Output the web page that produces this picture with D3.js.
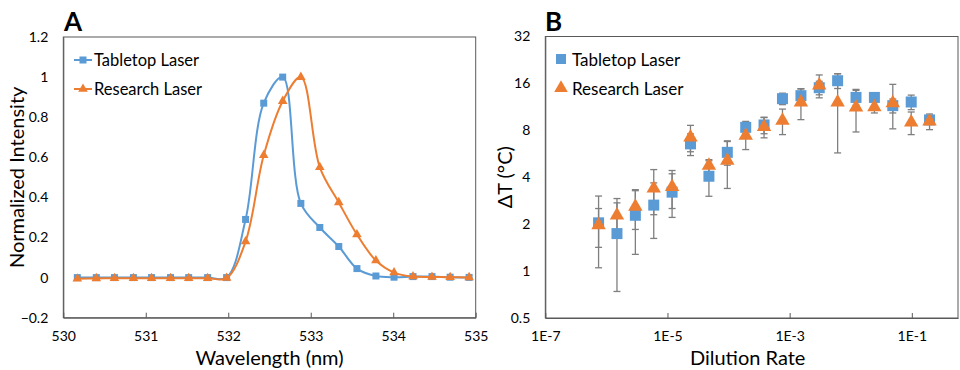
<!DOCTYPE html>
<html><head><meta charset="utf-8">
<script src="https://cdn.jsdelivr.net/npm/d3@7"></script>
<style>
html,body{margin:0;padding:0;background:#fff;}
svg text{font-family:Lato,"Open Sans",sans-serif;fill:#000;}
</style></head>
<body><svg id="c" width="960" height="370"></svg>
<script>
// ---------- Panel A data ----------
const wavelength = [530.17, 530.40, 530.62, 530.85, 531.07, 531.30, 531.52, 531.75, 531.98, 532.21, 532.43, 532.66, 532.88, 533.11, 533.34, 533.56, 533.79, 534.01, 534.24, 534.47, 534.69, 534.92];
const tabletopIntensity = [0, 0, 0, 0, 0, 0, 0, 0, 0, 0.29, 0.87, 1.0, 0.37, 0.25, 0.155, 0.045, 0.008, 0.002, 0.005, 0.005, 0.002, 0.001];
const researchIntensity = [-0.006, -0.004, -0.003, -0.003, -0.003, -0.003, -0.003, -0.003, -0.002, 0.18, 0.61, 0.88, 1.0, 0.55, 0.375, 0.215, 0.085, 0.025, 0.005, 0.003, 0.002, 0.001];
const xTicksA = [530, 531, 532, 533, 534, 535];
const yTicksA = [-0.2, 0, 0.2, 0.4, 0.6, 0.8, 1, 1.2];

// ---------- Panel B data ----------
const dilution = [7.45e-7, 1.49e-6, 2.98e-6, 5.96e-6, 1.19e-5, 2.38e-5, 4.77e-5, 9.54e-5, 1.91e-4, 3.81e-4, 7.63e-4, 1.53e-3, 3.05e-3, 6.10e-3, 1.22e-2, 2.44e-2, 4.88e-2, 9.77e-2, 0.195];
const tabletopDT = [2.04, 1.74, 2.28, 2.65, 3.21, 6.55, 4.06, 5.78, 8.36, 8.66, 12.77, 13.35, 15.02, 16.65, 13.01, 13.01, 11.52, 12.16, 9.33];
const tabletopErr = [0.99, 1.0, 1.0, 1.03, 1.0, 1.04, 1.04, 1.0, 0.77, 1.05, 1.08, 1.38, 1.5, 1.81, 1.42, 0.5, 1.18, 1.3, 0.6];
const researchDT = [1.97, 2.28, 2.59, 3.39, 3.47, 7.22, 4.75, 5.12, 7.40, 8.41, 9.23, 12.09, 15.53, 12.09, 11.23, 11.26, 11.98, 9.00, 9.13];
const researchErr = [0.55, 0.64, 0.74, 1.09, 0.95, 1.39, 0.44, 1.73, 1.38, 1.25, 1.72, 2.72, 2.6, 6.36, 3.42, 0.92, 3.8, 1.49, 1.05];
const xTicksB = [1e-7, 1e-5, 1e-3, 1e-1];
const xTickLabelsB = ["1E-7", "1E-5", "1E-3", "1E-1"];
const yTicksB = [0.5, 1, 2, 4, 8, 16, 32];

const seriesNames = ["Tabletop Laser", "Research Laser"];
const BLUE = "#5B9BD5", ORANGE = "#ED7D31";
const AXIS = "#595959", ERR = "#7F7F7F";

const svg = d3.select("#c");

// ---------- Panel A ----------
const A = {l: 63.3, r: 475.7, t: 37, b: 317.7};
const xA = d3.scaleLinear().domain([530, 535]).range([A.l, A.r]);
const yA = d3.scaleLinear().domain([-0.2, 1.2]).range([A.b, A.t]);
const gA = svg.append("g");

gA.append("rect").attr("x", A.l).attr("y", A.t).attr("width", A.r - A.l).attr("height", A.b - A.t)
  .attr("fill", "none").attr("stroke", AXIS).attr("stroke-width", 1);

const axA = gA.append("g").attr("transform", `translate(0,${A.b})`)
  .call(d3.axisBottom(xA).tickValues(xTicksA).tickFormat(d3.format("d")).tickSizeInner(-5).tickSizeOuter(0).tickPadding(13));
axA.select(".domain").attr("stroke", AXIS);
axA.selectAll(".tick line").attr("stroke", AXIS);
axA.selectAll("text").attr("font-size", 14);

const ayA = gA.append("g").attr("transform", `translate(${A.l},0)`)
  .call(d3.axisLeft(yA).tickValues(yTicksA).tickFormat(d => d3.format("~g")(+d.toFixed(2))).tickSize(0).tickPadding(15));
ayA.select(".domain").attr("stroke", AXIS);
ayA.selectAll("text").attr("font-size", 14);

const lineA = d3.line().curve(d3.curveCatmullRom.alpha(0.5));
const ptsT = wavelength.map((w, i) => [xA(w), yA(tabletopIntensity[i])]);
const ptsR = wavelength.map((w, i) => [xA(w), yA(researchIntensity[i])]);

gA.append("path").attr("d", lineA(ptsT)).attr("fill", "none").attr("stroke", BLUE).attr("stroke-width", 2);
gA.selectAll(".sqA").data(ptsT).join("rect").attr("x", d => d[0] - 3.5).attr("y", d => d[1] - 3.5)
  .attr("width", 7).attr("height", 7).attr("fill", BLUE);
gA.append("path").attr("d", lineA(ptsR)).attr("fill", "none").attr("stroke", ORANGE).attr("stroke-width", 2);
const tri = d3.symbol().type(d3.symbolTriangle);
gA.selectAll(".trA").data(ptsR).join("path").attr("d", tri.size(40)()).attr("transform", d => `translate(${d[0]},${d[1]})`).attr("fill", ORANGE);

// legend A
[[60, BLUE, "sq"], [89, ORANGE, "tr"]].forEach((L, i) => {
  gA.append("line").attr("x1", 74).attr("x2", 92).attr("y1", L[0]).attr("y2", L[0]).attr("stroke", L[1]).attr("stroke-width", 2);
  if (L[2] === "sq") gA.append("rect").attr("x", 79.5).attr("y", L[0] - 3.5).attr("width", 7).attr("height", 7).attr("fill", L[1]);
  else gA.append("path").attr("d", tri.size(40)()).attr("transform", `translate(83,${L[0]})`).attr("fill", L[1]);
  gA.append("text").attr("x", 94).attr("y", L[0]).attr("dy", "0.35em").attr("font-size", 16.5).text(seriesNames[i]);
});

gA.append("text").attr("x", 64).attr("y", 31).attr("font-size", 26).attr("font-weight", "bold").text("A");
gA.append("text").attr("transform", `translate(17,${(A.t + A.b) / 2}) rotate(-90)`).attr("text-anchor", "middle")
  .attr("dy", "0.35em").attr("font-size", 20).text("Normalized Intensity");
gA.append("text").attr("x", (A.l + A.r) / 2).attr("y", 358).attr("text-anchor", "middle").attr("dy", "0.35em")
  .attr("font-size", 20).text("Wavelength (nm)");

// ---------- Panel B ----------
const B = {l: 545.3, r: 958, t: 36.5, b: 318};
const xB = d3.scaleLog().base(10).domain([1e-7, 0.57]).range([B.l, B.r]);
const yB = d3.scaleLog().base(2).domain([0.5, 32]).range([B.b, B.t]);
const gB = svg.append("g");

gB.append("rect").attr("x", B.l).attr("y", B.t).attr("width", B.r - B.l).attr("height", B.b - B.t)
  .attr("fill", "none").attr("stroke", AXIS).attr("stroke-width", 1);

const axB = gB.append("g").attr("transform", `translate(0,${B.b})`)
  .call(d3.axisBottom(xB).tickValues(xTicksB).tickFormat((d, i) => xTickLabelsB[i]).tickSizeInner(-5).tickSizeOuter(0).tickPadding(13));
axB.select(".domain").attr("stroke", AXIS);
axB.selectAll(".tick line").attr("stroke", AXIS);
axB.selectAll("text").attr("font-size", 14);

const ayB = gB.append("g").attr("transform", `translate(${B.l},0)`)
  .call(d3.axisLeft(yB).tickValues(yTicksB).tickFormat(d => String(d)).tickSize(0).tickPadding(15));
ayB.select(".domain").attr("stroke", AXIS);
ayB.selectAll("text").attr("font-size", 14);

function errBars(vals, errs) {
  const d = dilution.map((x, i) => ({x: xB(x), y1: yB(vals[i] + errs[i]), y0: yB(Math.max(vals[i] - errs[i], 0.45))}));
  const g = gB.append("g").attr("stroke", ERR).attr("stroke-width", 1.3);
  g.selectAll("line.v").data(d).join("line").attr("x1", p => p.x).attr("x2", p => p.x).attr("y1", p => p.y1).attr("y2", p => p.y0);
  g.selectAll("line.c1").data(d).join("line").attr("x1", p => p.x - 3.5).attr("x2", p => p.x + 3.5).attr("y1", p => p.y1).attr("y2", p => p.y1);
  g.selectAll("line.c2").data(d).join("line").attr("x1", p => p.x - 3.5).attr("x2", p => p.x + 3.5).attr("y1", p => p.y0).attr("y2", p => p.y0);
}
errBars(tabletopDT, tabletopErr);
errBars(researchDT, researchErr);

gB.append("g").selectAll("rect").data(dilution).join("rect")
  .attr("x", (d) => xB(d) - 5.5).attr("y", (d, i) => yB(tabletopDT[i]) - 5.5)
  .attr("width", 11).attr("height", 11).attr("fill", BLUE);
gB.append("g").selectAll("path").data(dilution).join("path")
  .attr("d", tri.size(90)()).attr("transform", (d, i) => `translate(${xB(d)},${yB(researchDT[i])})`).attr("fill", ORANGE);

// legend B
gB.append("rect").attr("x", 556).attr("y", 54).attr("width", 10).attr("height", 10).attr("fill", BLUE);
gB.append("path").attr("d", tri.size(80)()).attr("transform", "translate(561,88)").attr("fill", ORANGE);
gB.append("text").attr("x", 572).attr("y", 60).attr("dy", "0.35em").attr("font-size", 17).text(seriesNames[0]);
gB.append("text").attr("x", 572).attr("y", 89).attr("dy", "0.35em").attr("font-size", 17).text(seriesNames[1]);

gB.append("text").attr("x", 545).attr("y", 31).attr("font-size", 26).attr("font-weight", "bold").text("B");
gB.append("text").attr("transform", `translate(505,${(B.t + B.b) / 2}) rotate(-90)`).attr("text-anchor", "middle")
  .attr("dy", "0.35em").attr("font-size", 20).text("ΔT (°C)");
gB.append("text").attr("x", (B.l + B.r) / 2 - 4).attr("y", 358).attr("text-anchor", "middle").attr("dy", "0.35em")
  .attr("font-size", 20).text("Dilution Rate");
</script></body></html>
